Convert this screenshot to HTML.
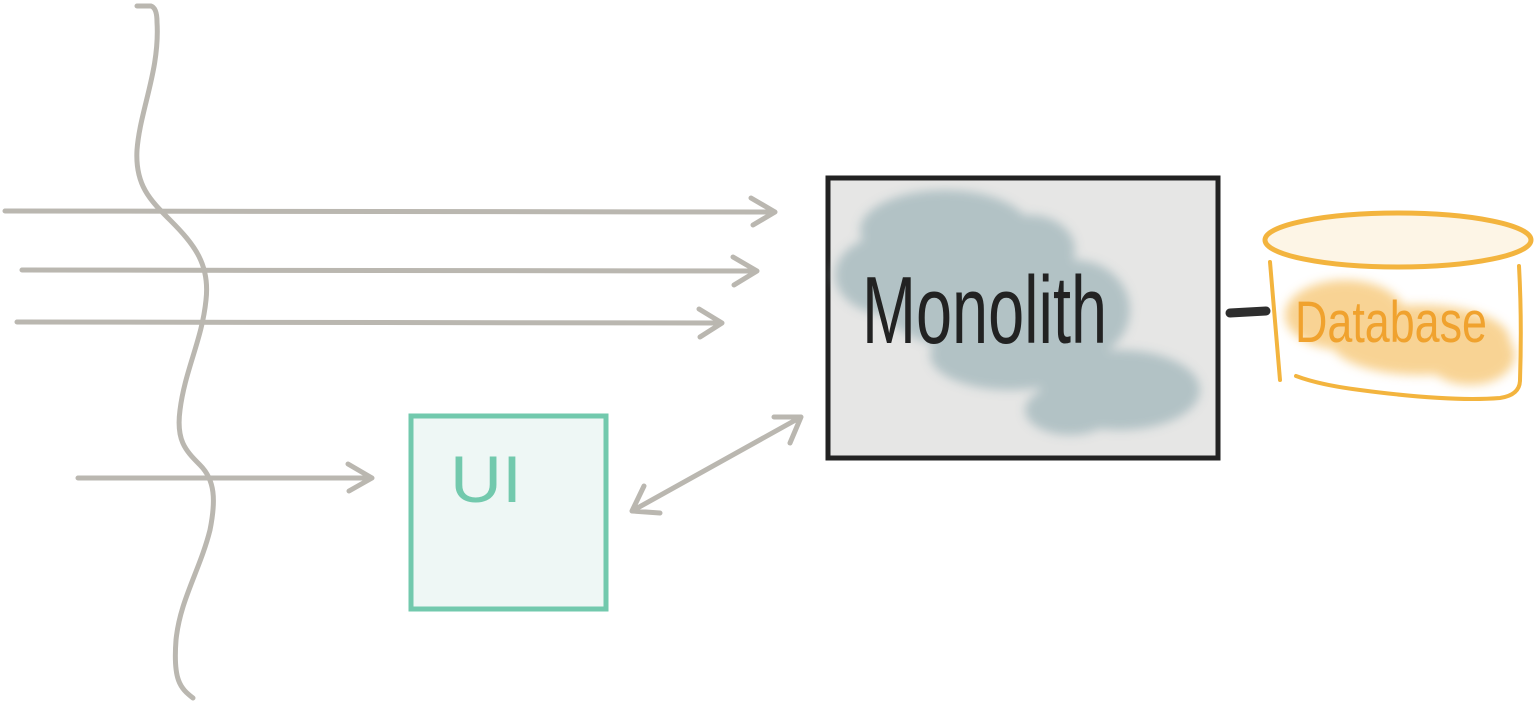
<!DOCTYPE html>
<html><head><style>html,body{margin:0;padding:0;background:#fff;width:1536px;height:708px;overflow:hidden}</style></head>
<body>
<svg width="1536" height="708" viewBox="0 0 1536 708" xmlns="http://www.w3.org/2000/svg">
<defs>
<filter id="blur" x="-20%" y="-20%" width="140%" height="140%"><feGaussianBlur stdDeviation="5"/></filter>
</defs>
<g fill="none" stroke="#bab7b0" stroke-width="5" stroke-linecap="round" stroke-linejoin="round">
<path d="M137,6 L151,6 Q157,8 157,22 C160,70 140,110 137,150 C135,185 150,200 170,220 C195,245 210,265 206,300 C202,340 185,370 180,410 C176,440 185,450 200,465 C215,480 216,500 210,530 C200,570 180,600 176,640 C173,680 180,688 193,698"/>
<path d="M5,211 L775,212 M751,198 L775,212 L753,225"/>
<path d="M22,270 L757,271 M733,257 L757,271 L734,285"/>
<path d="M17,322 L722,323 M699,309 L722,323 L700,337"/>
<path d="M78,478 L372,478 M348,464 L372,478 L349,491"/>
<path d="M632,511 L801,417 M774,417 L801,417 L790,443 M632,511 L644,486 M632,511 L660,513"/>
</g>
<rect x="828" y="178" width="390" height="280" fill="#e6e6e5" stroke="#222" stroke-width="5"/>
<g fill="#a9bcc0" opacity="0.85" filter="url(#blur)">
<ellipse cx="945" cy="230" rx="85" ry="40"/>
<ellipse cx="890" cy="275" rx="55" ry="40"/>
<ellipse cx="1030" cy="250" rx="45" ry="35"/>
<ellipse cx="980" cy="300" rx="100" ry="50"/>
<ellipse cx="1075" cy="310" rx="55" ry="50"/>
<ellipse cx="1010" cy="355" rx="80" ry="35"/>
<ellipse cx="1120" cy="390" rx="80" ry="40"/>
<ellipse cx="1070" cy="410" rx="45" ry="25"/>
</g>
<text x="862" y="343" font-family="Liberation Sans Narrow, Liberation Sans, sans-serif" font-size="96" fill="#222" textLength="245" lengthAdjust="spacingAndGlyphs">Monolith</text>
<path d="M1230,313 L1266,311" stroke="#2e2e2e" stroke-width="9" stroke-linecap="round"/>
<g fill="#f3b03c" opacity="0.55" filter="url(#blur)">
<ellipse cx="1345" cy="315" rx="60" ry="35"/>
<ellipse cx="1420" cy="340" rx="90" ry="35"/>
<ellipse cx="1470" cy="355" rx="45" ry="30"/>
</g>
<ellipse cx="1398" cy="240" rx="133" ry="27" fill="#fdf5e6" stroke="#f3b43e" stroke-width="5"/>
<g fill="none" stroke="#f3b43e" stroke-width="4" stroke-linecap="round">
<path d="M1270,262 L1280,380"/>
<path d="M1519,266 Q1522,320 1520,380"/>
<path d="M1296,376 Q1320,385 1360,390 Q1450,402 1500,398 Q1520,395 1520,380"/>
</g>
<text x="1295" y="342" font-family="Liberation Sans Narrow, Liberation Sans, sans-serif" font-size="58" fill="#f0a22e" textLength="192" lengthAdjust="spacingAndGlyphs">Database</text>
<rect x="411" y="416" width="195" height="193" fill="#eef7f5" stroke="#72c9ad" stroke-width="5"/>
<text x="450" y="502" font-family="Liberation Sans Narrow, Liberation Sans, sans-serif" font-size="66" fill="#72c9ad" textLength="72" lengthAdjust="spacingAndGlyphs">UI</text>
</svg>
</body></html>
